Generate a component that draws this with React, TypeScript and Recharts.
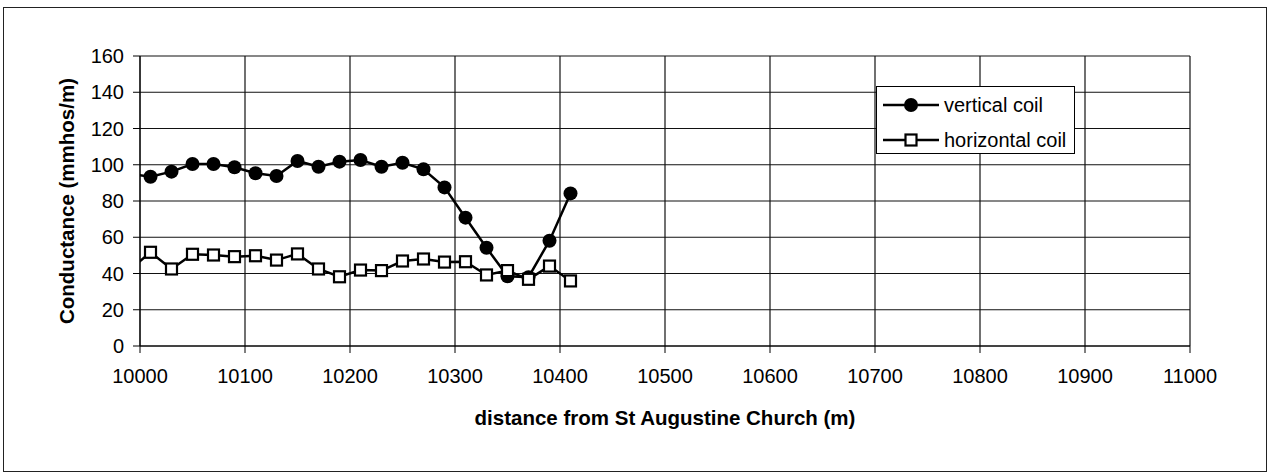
import { CartesianGrid, Legend, Line, LineChart, XAxis, YAxis } from "recharts"

// distance along the traverse (m); first point sits just left of the axis and is clipped
const distance = [
  9990, 10010, 10030, 10050, 10070, 10090, 10110, 10130, 10150, 10170, 10190,
  10210, 10230, 10250, 10270, 10290, 10310, 10330, 10350, 10370, 10390, 10410,
]
const verticalCoil = [
  95, 93.4, 96.2, 100.4, 100.4, 98.6, 95.3, 93.8, 102.1, 98.9, 101.7,
  102.6, 98.9, 101.1, 97.5, 87.5, 70.8, 54.2, 38.5, 38, 58.1, 84.2,
]
const horizontalCoil = [
  42, 51.7, 42.5, 50.6, 50.2, 49.3, 49.8, 47.4, 50.8, 42.5, 38.2,
  41.9, 41.6, 46.9, 48, 46.3, 46.5, 39.2, 41.6, 36.8, 44.1, 35.9,
]
const xTicks = [10000, 10100, 10200, 10300, 10400, 10500, 10600, 10700, 10800, 10900, 11000]
const yTicks = [0, 20, 40, 60, 80, 100, 120, 140, 160]

const data = distance.map((d, i) => ({
  distance: d,
  vertical: verticalCoil[i],
  horizontal: horizontalCoil[i],
}))

const font = "'Liberation Sans', Arial, Helvetica, sans-serif"

const SquareDot = (props: any) => {
  const { cx, cy } = props
  if (cx == null || cy == null) return null
  return <rect x={cx - 5.5} y={cy - 5.5} width={11} height={11} fill="#fff" stroke="#000" strokeWidth={2.2} />
}

const LegendBox = () => (
  <div
    style={{
      boxSizing: "border-box",
      width: 199,
      height: 68,
      border: "1.5px solid #000",
      background: "#fff",
      fontFamily: font,
      fontSize: 20,
      color: "#000",
    }}
  >
    {[
      { name: "vertical coil", square: false },
      { name: "horizontal coil", square: true },
    ].map((item) => (
      <div key={item.name} style={{ display: "flex", alignItems: "center", height: 35, paddingLeft: 6 }}>
        <svg width={57} height={20} style={{ display: "block" }}>
          <line x1={0} y1={10} x2={56} y2={10} stroke="#000" strokeWidth={2.4} />
          {item.square ? (
            <rect x={22.5} y={4.5} width={11} height={11} fill="#fff" stroke="#000" strokeWidth={2.2} />
          ) : (
            <circle cx={28} cy={10} r={7} fill="#000" />
          )}
        </svg>
        <span style={{ marginLeft: 4, lineHeight: "20px" }}>{item.name}</span>
      </div>
    ))}
  </div>
)

export default function App() {
  return (
    <div style={{ position: "relative", width: 1269, height: 474, background: "#fff" }}>
      <style>{"body{margin:0}"}</style>
      <div
        style={{
          position: "absolute",
          left: 3,
          top: 7,
          width: 1262,
          height: 463,
          border: "1px solid #222",
        }}
      />
      <div style={{ position: "absolute", left: 0, top: 0 }}>
        <LineChart width={1269} height={474} data={data} margin={{ top: 56, right: 79, bottom: 68, left: 60 }}>
          <CartesianGrid stroke="#111" strokeWidth={1.2} horizontalValues={yTicks} verticalValues={xTicks} />
          <XAxis
            type="number"
            dataKey="distance"
            domain={[10000, 11000]}
            ticks={xTicks}
            allowDataOverflow
            height={60}
            stroke="#000"
            tickSize={7}
            tickMargin={16}
            tick={{ fill: "#000", fontSize: 20, fontFamily: font }}
            label={{
              content: (p: any) => (
                <text
                  x={p.viewBox.x + p.viewBox.width / 2}
                  y={p.viewBox.y + 79}
                  textAnchor="middle"
                  fontFamily={font}
                  fontSize={20.5}
                  fontWeight="bold"
                  fill="#000"
                >
                  distance from St Augustine Church (m)
                </text>
              ),
            }}
          />
          <YAxis
            type="number"
            domain={[0, 160]}
            ticks={yTicks}
            width={80}
            stroke="#000"
            tickSize={7}
            tickMargin={9}
            tick={{ fill: "#000", fontSize: 20, fontFamily: font }}
            label={{
              content: (p: any) => {
                const x = p.viewBox.x + 14
                const y = p.viewBox.y + p.viewBox.height / 2
                return (
                  <text
                    x={x}
                    y={y}
                    transform={`rotate(-90, ${x}, ${y})`}
                    textAnchor="middle"
                    fontFamily={font}
                    fontSize={20.5}
                    fontWeight="bold"
                    fill="#000"
                  >
                    Conductance (mmhos/m)
                  </text>
                )
              },
            }}
          />
          <Legend
            layout="vertical"
            align="center"
            verticalAlign="middle"
            content={() => <LegendBox />}
            wrapperStyle={{ left: 876, top: 86, width: 199, height: 68 }}
          />
          <Line
            type="linear"
            dataKey="vertical"
            name="vertical coil"
            stroke="#000"
            strokeWidth={2.5}
            dot={{ r: 7, fill: "#000", stroke: "#000", strokeWidth: 0 }}
            isAnimationActive={false}
          />
          <Line
            type="linear"
            dataKey="horizontal"
            name="horizontal coil"
            stroke="#000"
            strokeWidth={2.5}
            dot={<SquareDot />}
            isAnimationActive={false}
          />
        </LineChart>
      </div>
    </div>
  )
}
